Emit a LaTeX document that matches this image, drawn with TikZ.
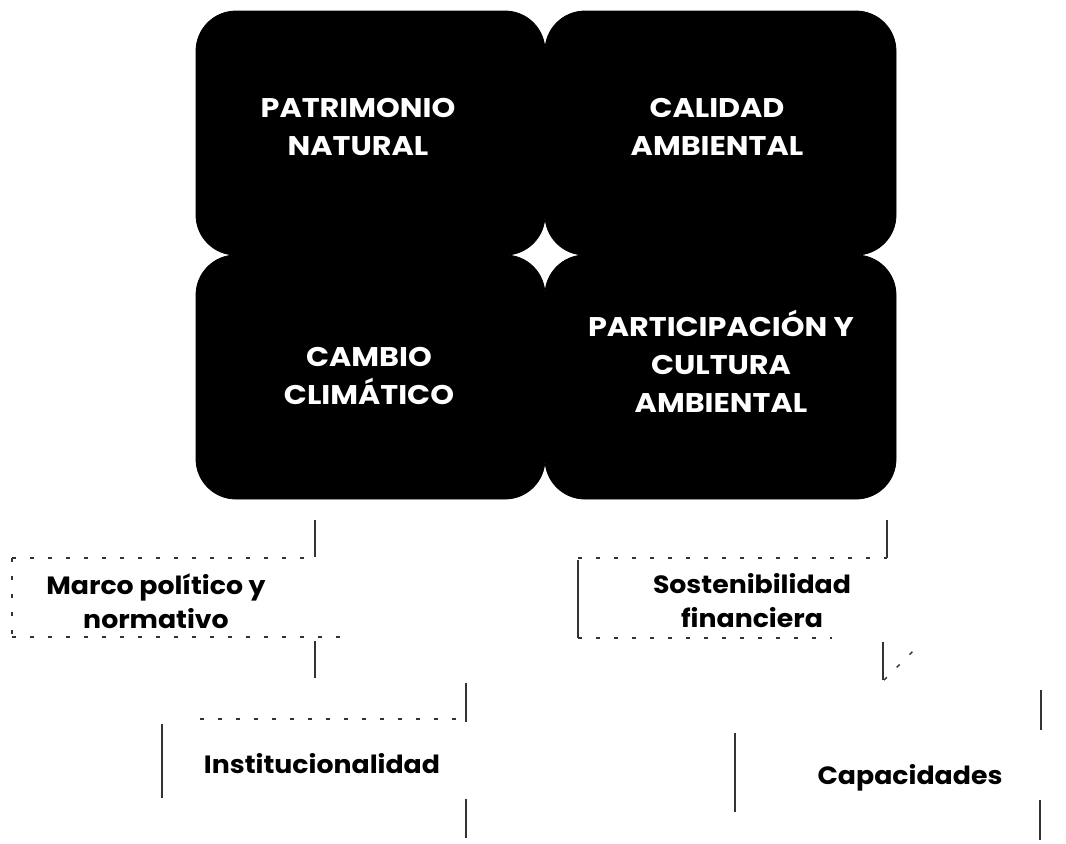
\documentclass[tikz,border=0pt]{standalone}
\usepackage{fontspec}
\setmainfont{Poppins}
\newfontfamily\widefont{Poppins}[FakeStretch=1.12]
\newfontfamily\basefont{Poppins}[FakeStretch=1.07]
\usetikzlibrary{positioning}
\colorlet{axiscol}{black}
\colorlet{fragcol}{black!80}
\tikzset{
  axis/.style={fill=axiscol, draw=axiscol, rounded corners=20pt},
  axislabel/.style={text=white, align=center, inner sep=0pt, font=\widefont\bfseries\fontsize{13.5}{19}\selectfont},
  baselabel/.style={text=black, align=center, inner sep=0pt, font=\basefont\bfseries\fontsize{12.5}{17}\selectfont},
  frag/.style={line width=0.8pt, fragcol},
  fragdash/.style={line width=0.7pt, fragcol, dash pattern=on 2pt off 7pt},
}

\begin{document}
\begin{tikzpicture}[x=0.5pt, y=-0.5pt]
  \useasboundingbox (0,0) rectangle (1066,843);

  % --- Definitions ---
  \def\xL{196}   % left edge
  \def\xM{545}   % middle
  \def\xR{896}   % right edge
  \def\yT{11}    % top edge
  \def\yM{255}   % middle
  \def\yB{499}   % bottom edge

  % --- 1. Four axes ---
  \draw[axis] (\xL,\yT) rectangle (\xM,\yM);
  \draw[axis] (\xM,\yT) rectangle (\xR,\yM);
  \draw[axis] (\xL,\yM) rectangle (\xM,\yB);
  \draw[axis] (\xM,\yM) rectangle (\xR,\yB);

  \node[axislabel] (patrimonio) at (358,127) {PATRIMONIO\\NATURAL};
  \node[axislabel] (calidad) at (717,127) {CALIDAD\\AMBIENTAL};
  \node[axislabel] (cambio) at (369,376) {CAMBIO\\CLIMÁTICO};
  \node[axislabel] (participacion) at (721,361) {PARTICIPACIÓN Y\\CULTURA\\AMBIENTAL};

  % --- 2. Cross-cutting themes ---
  \node[baselabel] (marco) at (156,601) {Marco político y\\normativo};
  \node[baselabel] (sostenibilidad) at (752,601) {Sostenibilidad\\financiera};
  \node[baselabel] (institucionalidad) at (322,764) {Institucionalidad};
  \node[baselabel] (capacidades) at (910,778) {Capacidades};

  % Left column outline fragments
  \draw[frag] (315,520) -- (315,557);
  \draw[fragdash] (12,558) -- (315,558);
  \draw[fragdash] (12,558) -- (12,637);
  \draw[fragdash] (12,637) -- (350,637);
  \draw[frag] (315,641) -- (315,678);
  \draw[frag] (466,683) -- (466,722);
  \draw[fragdash] (200,719) -- (466,719);
  \draw[frag] (162,724) -- (162,798);
  \draw[frag] (466,799) -- (466,838);

  % Right column outline fragments
  \draw[frag] (887,520) -- (887,558);
  \draw[fragdash] (578,558) -- (887,558);
  \draw[frag] (578,560) -- (578,638);
  \draw[fragdash] (578,638) -- (832,638);
  \draw[frag] (883,642) -- (883,680);
  \draw[fragdash] (884,680) -- (914,650);
  \draw[frag] (1041,690) -- (1041,730);
  \draw[frag] (735,733) -- (735,812);
  \draw[frag] (1040,800) -- (1040,840);

\end{tikzpicture}
\end{document}
